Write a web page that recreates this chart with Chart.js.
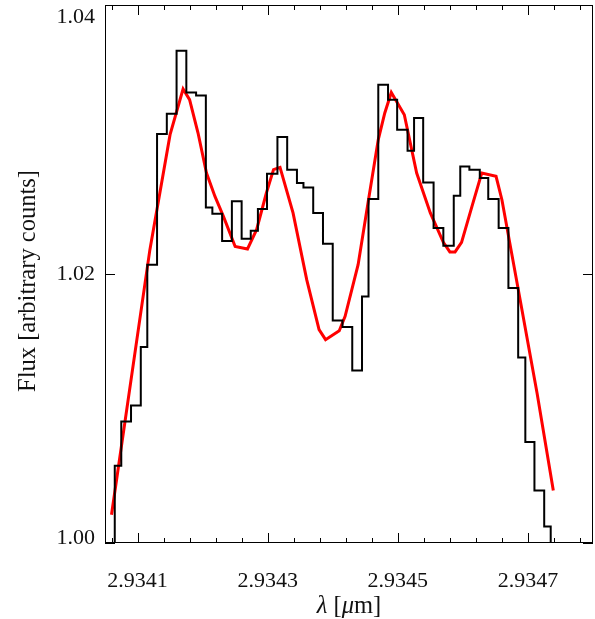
<!DOCTYPE html>
<html>
<head>
<meta charset="utf-8">
<script src="https://cdn.jsdelivr.net/npm/chart.js@4/dist/chart.umd.min.js"></script>
<style>
  html, body { margin: 0; padding: 0; background: #fff; }
  #contenitore { width: 595px; height: 619px; }
</style>
</head>
<body>
<div id="contenitore"><canvas id="spettro"></canvas></div>
<script>
// istogramma osservato: bordi dei bin (um) e flusso di ogni bin
// il primo e l'ultimo bin stanno sotto 1.00 e vengono tagliati
const binEdges = [
  2.934050, 2.934065, 2.934075, 2.934090, 2.934105, 2.934115, 2.934130, 2.934145,
  2.934160, 2.934175, 2.934190, 2.934205, 2.934215, 2.934230, 2.934245, 2.934260,
  2.934274, 2.934285, 2.934299, 2.934315, 2.934330, 2.934345, 2.934355, 2.934370,
  2.934385, 2.934400, 2.934415, 2.934430, 2.934445, 2.934455, 2.934470, 2.934485,
  2.934499, 2.934515, 2.934525, 2.934539, 2.934555, 2.934570, 2.934586, 2.934596,
  2.934610, 2.934626, 2.934639, 2.934655, 2.934670, 2.934685, 2.934696, 2.934710,
  2.934725, 2.934735, 2.934750
];
const binFlux = [
  0.9985,
  1.00575, 1.00904, 1.01023, 1.01457, 1.02069, 1.03041, 1.03192, 1.03660,
  1.03350, 1.03328, 1.02495, 1.02448, 1.02245, 1.02540, 1.02262, 1.02322,
  1.02483, 1.02746, 1.03019, 1.02775, 1.02677, 1.02644, 1.02454, 1.02225,
  1.01655, 1.01606, 1.01283, 1.01833, 1.02558, 1.03407, 1.03296, 1.03073,
  1.02917, 1.03160, 1.02681, 1.02342, 1.02210, 1.02582, 1.02800, 1.02775,
  1.02714, 1.02558, 1.02342, 1.01896, 1.01380, 1.00751, 1.00391, 1.00123,
  0.9985
];

// modello (linea rossa)
const modelLambda = [
  2.934060, 2.934119, 2.934150, 2.934170, 2.934180, 2.934193, 2.934206, 2.934219,
  2.934232, 2.934250, 2.934269, 2.934283, 2.934298, 2.934309, 2.934319, 2.934339,
  2.934360, 2.934379, 2.934389, 2.934410, 2.934419, 2.934439, 2.934455, 2.934470,
  2.934480, 2.934490, 2.934510, 2.934529, 2.934550, 2.934570, 2.934580, 2.934588,
  2.934598, 2.934614, 2.934629, 2.934651, 2.934660, 2.934688, 2.934714, 2.934739
];
const modelFlux = [
  1.00210, 1.02181, 1.03036, 1.03375, 1.03296, 1.03048, 1.02751, 1.02577,
  1.02428, 1.02205, 1.02186, 1.02329, 1.02602, 1.02776, 1.02793, 1.02454,
  1.01958, 1.01586, 1.01512, 1.01578, 1.01685, 1.02069, 1.02552, 1.02999,
  1.03197, 1.03350, 1.03184, 1.02751, 1.02454, 1.02235, 1.02164, 1.02164,
  1.02235, 1.02503, 1.02751, 1.02726, 1.02552, 1.01809, 1.01115, 1.00391
];

// assi
const xTicks = [2.9341, 2.9343, 2.9345, 2.9347];
const xTickLabels = ['2.9341', '2.9343', '2.9345', '2.9347'];
const yTicks = [1.00, 1.02, 1.04];
const yTickLabels = ['1.00', '1.02', '1.04'];
const xMin = 2.93405, xMax = 2.93480;
const yMin = 1.00, yMax = 1.04;

const FONT = '"Liberation Serif", "DejaVu Serif", serif';

// punti per l'istogramma: inizio di ogni bin + chiusura dell'ultimo
const puntiIstogramma = binFlux.map((f, i) => ({ x: binEdges[i], y: f }));
puntiIstogramma.push({ x: binEdges[binEdges.length - 1], y: binFlux[binFlux.length - 1] });

const puntiModello = modelLambda.map((l, i) => ({ x: l, y: modelFlux[i] }));

const cornice = {
  id: 'cornice',
  afterDraw(chart) {
    const ctx = chart.ctx;
    const area = chart.chartArea;
    const sx = chart.scales.x;
    const sy = chart.scales.y;
    ctx.save();
    ctx.strokeStyle = '#000';
    ctx.lineWidth = 1;
    ctx.strokeRect(area.left + 0.5, area.top + 0.5, area.right - area.left - 1, area.bottom - area.top - 1);

    // tacche x: maggiori ogni 0.0002, minori ogni 0.00004
    ctx.beginPath();
    for (let k = 0; k <= 20; k++) {
      const v = 2.93406 + k * 0.00004;
      if (v > xMax) break;
      const px = Math.round(sx.getPixelForValue(v)) + 0.5;
      const major = xTicks.some(t => Math.abs(t - v) < 1e-8);
      const len = major ? 10 : 5;
      ctx.moveTo(px, area.bottom);
      ctx.lineTo(px, area.bottom - len);
      ctx.moveTo(px, area.top);
      ctx.lineTo(px, area.top + len);
    }
    yTicks.forEach(v => {
      const py = Math.round(sy.getPixelForValue(v)) + 0.5;
      ctx.moveTo(area.left, py);
      ctx.lineTo(area.left + 10, py);
      ctx.moveTo(area.right, py);
      ctx.lineTo(area.right - 10, py);
    });
    ctx.stroke();

    // etichette
    ctx.fillStyle = '#111';
    ctx.font = '22px ' + FONT;
    ctx.textAlign = 'center';
    ctx.textBaseline = 'alphabetic';
    xTicks.forEach((v, i) => {
      ctx.fillText(xTickLabels[i], sx.getPixelForValue(v), area.bottom + 44);
    });
    ctx.textAlign = 'right';
    yTicks.forEach((v, i) => {
      let py = sy.getPixelForValue(v);
      if (i === 0) { ctx.textBaseline = 'alphabetic'; py += 1; }
      else if (i === yTicks.length - 1) { ctx.textBaseline = 'alphabetic'; py += 18; }
      else { ctx.textBaseline = 'middle'; }
      ctx.fillText(yTickLabels[i], area.left - 10, py);
    });

    // titolo asse x con lettere greche in corsivo
    const pezzi = [['λ', true], [' [', false], ['μ', true], ['m]', false]];
    let largh = 0;
    pezzi.forEach(p => {
      ctx.font = (p[1] ? 'italic ' : '') + '24.5px ' + FONT;
      largh += ctx.measureText(p[0]).width;
    });
    let cx = (area.left + area.right) / 2 - largh / 2;
    ctx.textAlign = 'left';
    ctx.textBaseline = 'alphabetic';
    pezzi.forEach(p => {
      ctx.font = (p[1] ? 'italic ' : '') + '24.5px ' + FONT;
      ctx.fillText(p[0], cx, 613);
      cx += ctx.measureText(p[0]).width;
    });

    // titolo asse y
    ctx.font = '24.5px ' + FONT;
    ctx.translate(35, 281);
    ctx.rotate(-Math.PI / 2);
    ctx.textAlign = 'center';
    ctx.fillText('Flux [arbitrary counts]', 0, 0);
    ctx.restore();
  }
};

new Chart(document.getElementById('spettro').getContext('2d'), {
  type: 'line',
  data: {
    datasets: [{
      label: 'Osservato',
      data: puntiIstogramma,
      stepped: 'before',
      borderColor: '#000',
      borderWidth: 2,
      pointRadius: 0,
      fill: false,
      tension: 0
    }, {
      label: 'Modello',
      data: puntiModello,
      borderColor: '#ff0000',
      borderWidth: 3,
      pointRadius: 0,
      fill: false,
      tension: 0
    }]
  },
  options: {
    responsive: true,
    maintainAspectRatio: false,
    animation: false,
    layout: { padding: { left: 105, right: 2, top: 5, bottom: 76 } },
    plugins: { legend: { display: false }, tooltip: { enabled: false } },
    scales: {
      x: { type: 'linear', min: xMin, max: xMax, display: false },
      y: { type: 'linear', min: yMin, max: yMax, display: false }
    }
  },
  plugins: [cornice]
});
</script>
</body>
</html>
